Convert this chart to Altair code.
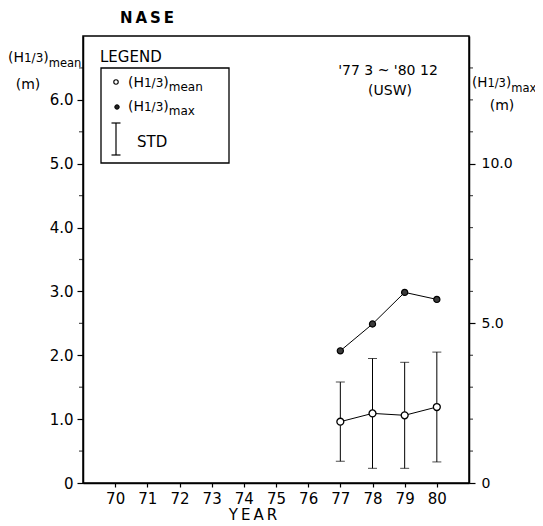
import altair as alt
import pandas as pd

# ---- data ----
years = [77, 78, 79, 80]
h_mean = [0.96, 1.09, 1.06, 1.19]      # (H1/3)mean, m  (left axis)
h_std = [0.62, 0.86, 0.83, 0.86]       # standard deviation, m
h_max = [4.14, 4.98, 5.97, 5.75]       # (H1/3)max, m  (right axis)

x_ticks = [70, 71, 72, 73, 74, 75, 76, 77, 78, 79, 80]
left_major = [0, 1, 2, 3, 4, 5, 6]
left_minor = [0.5, 1.5, 2.5, 3.5, 4.5, 5.5, 6.5]
right_major = [0, 5, 10]
right_minor = [1, 2, 3, 4, 6, 7, 8, 9, 11, 12, 13]

df = pd.DataFrame({"year": years, "mean": h_mean, "std": h_std, "hmax": h_max})
df["lo"] = df["mean"] - df["std"]
df["hi"] = df["mean"] + df["std"]
df_lminor = pd.DataFrame({"v": left_minor})
df_rminor = pd.DataFrame({"v": right_minor})
one = pd.DataFrame({"k": [0]})

FONT = "DejaVu Sans"
W, H = 386, 447

xscale = alt.Scale(domain=[69, 81], nice=False, zero=False)
xaxis = alt.Axis(values=x_ticks, title=None, format="d", labelFontSize=15,
                 tickSize=4, labelPadding=4, labelFlush=False)


def X():
    return alt.X("year:Q", scale=xscale, axis=xaxis)


lscale = alt.Scale(domain=[0, 7], nice=False, zero=True)
rscale = alt.Scale(domain=[0, 14], nice=False, zero=True)
laxis = alt.Axis(orient="left", values=left_major, title=None,
                 labelExpr="datum.value == 0 ? '0' : format(datum.value, '.1f')",
                 labelFontSize=15, tickSize=6, labelPadding=4)
raxis = alt.Axis(orient="right", values=right_major, title=None,
                 labelExpr="datum.value == 0 ? '0' : format(datum.value, '.1f')",
                 labelFontSize=14, tickSize=6, labelPadding=6)


def YL(f):
    return alt.Y(f"{f}:Q", scale=lscale, axis=laxis)


def YR(f):
    return alt.Y(f"{f}:Q", scale=rscale, axis=raxis)


# ---- left (mean) group ----
errbar = alt.Chart(df).mark_rule(color="black", strokeWidth=1).encode(
    x=X(), y=YL("lo"), y2=alt.Y2("hi:Q"))
cap_lo = alt.Chart(df).mark_tick(orient="horizontal", color="black", size=9, thickness=1).encode(
    x=X(), y=YL("lo"))
cap_hi = alt.Chart(df).mark_tick(orient="horizontal", color="black", size=9, thickness=1).encode(
    x=X(), y=YL("hi"))
mean_line = alt.Chart(df).mark_line(color="black", strokeWidth=1).encode(x=X(), y=YL("mean"))
mean_pts = alt.Chart(df).mark_point(shape="circle", filled=True, fill="white", stroke="black",
                                    strokeWidth=1.3, size=48, opacity=1).encode(x=X(), y=YL("mean"))
left_group = alt.layer(errbar, cap_lo, cap_hi, mean_line, mean_pts)

# ---- right (max) group ----
max_line = alt.Chart(df).mark_line(color="black", strokeWidth=1).encode(x=X(), y=YR("hmax"))
max_pts = alt.Chart(df).mark_point(shape="circle", filled=True, fill="#3a3a3a", stroke="black",
                                   strokeWidth=1.2, size=38, opacity=1).encode(x=X(), y=YR("hmax"))
right_group = alt.layer(max_line, max_pts)

# ---- minor ticks drawn as short tick marks just outside the axis lines ----
lminor = alt.Chart(df_lminor).mark_tick(orient="horizontal", color="black", size=4, thickness=1.2).encode(
    y=alt.Y("v:Q", scale=lscale, axis=None), x=alt.value(-2))
rminor = alt.Chart(df_rminor).mark_tick(orient="horizontal", color="black", size=4, thickness=1.2).encode(
    y=alt.Y("v:Q", scale=rscale, axis=None), x=alt.value(W + 2))

# ---- text / legend decoration ----
WID = {"(": 0.390, ")": 0.390, "H": 0.752, "1": 0.636, "/": 0.337, "3": 0.636,
       "m": 0.974, "e": 0.615, "a": 0.613, "n": 0.634, "x": 0.592}


def txt(s, x, y, size, align="left", weight="normal"):
    return alt.Chart(one).mark_text(text=s, align=align, baseline="alphabetic", font=FONT,
                                    fontSize=size, fontWeight=weight, color="black").encode(
        x=alt.value(x), y=alt.value(y))


def rich(x, y, pieces):
    out = []
    cx = x
    for s, size, dy in pieces:
        out.append(txt(s, cx, y + dy, size))
        cx += sum(WID[c] for c in s) * size
    return out


def hlabel(x, y, sub, big=14, small=12, subsize=12, drop=5):
    return rich(x, y, [("(H", big, 0), ("1/3", small, 0), (")", big, 0), (sub, subsize, drop)])


def rule(x, x2, y, y2):
    return alt.Chart(one).mark_rule(color="black", strokeWidth=1.2).encode(
        x=alt.value(x), x2=alt.value(x2), y=alt.value(y), y2=alt.value(y2))


decor = []
decor.append(txt("N\u2009A\u2009S\u2009E", 64, -13, 15, align="center", weight="bold"))
decor += hlabel(-75, 26, "mean", big=14, small=12, subsize=11.5)
decor.append(txt("(m)", -55, 53, 14, align="center"))
decor += hlabel(389, 51, "max", big=13.5, small=11.5, subsize=11.5)
decor.append(txt("(m)", 419, 74, 14, align="center"))
decor.append(txt("LEGEND", 17, 26, 15))
decor.append(alt.Chart(one).mark_rect(fill="white", fillOpacity=0, stroke="black", strokeWidth=1.3).encode(
    x=alt.value(18), x2=alt.value(146), y=alt.value(32), y2=alt.value(127)))
decor.append(alt.Chart(one).mark_point(shape="circle", filled=True, fill="white", stroke="black",
                                       strokeWidth=1.1, size=20, opacity=1).encode(
    x=alt.value(33), y=alt.value(46)))
decor += hlabel(45, 51, "mean", big=14, small=12, subsize=12, drop=4)
decor.append(alt.Chart(one).mark_point(shape="circle", filled=True, fill="#222", stroke="black",
                                       strokeWidth=1, size=20, opacity=1).encode(
    x=alt.value(34), y=alt.value(71)))
decor += hlabel(45, 75, "max", big=14, small=12, subsize=12, drop=4)
decor.append(rule(33, 33, 87, 119))
decor.append(rule(28.5, 37.5, 87, 87))
decor.append(rule(28.5, 37.5, 119, 119))
decor.append(txt("STD", 54, 111, 15))
decor.append(txt("'77 3 ~ '80 12", 305, 39, 14, align="center"))
decor.append(txt("(USW)", 307, 59, 14, align="center"))
decor.append(txt("Y\u2009E\u2009A\u2009R", 170, 484, 15, align="center"))

chart = alt.layer(left_group, right_group, lminor, rminor, *decor).resolve_scale(
    y="independent").resolve_axis(y="independent").properties(
    width=W, height=H,
    autosize=alt.AutoSizeParams(type="none"),
    padding={"left": 75, "top": 28, "right": 66, "bottom": 40},
).configure_view(stroke="black", strokeWidth=1.5).configure_axis(
    domainColor="black", domainWidth=1.5, tickColor="black", tickWidth=1.2,
    labelColor="black", labelFont=FONT, grid=False)

chart.save("out.html", embed_options={"renderer": "svg", "actions": False})
